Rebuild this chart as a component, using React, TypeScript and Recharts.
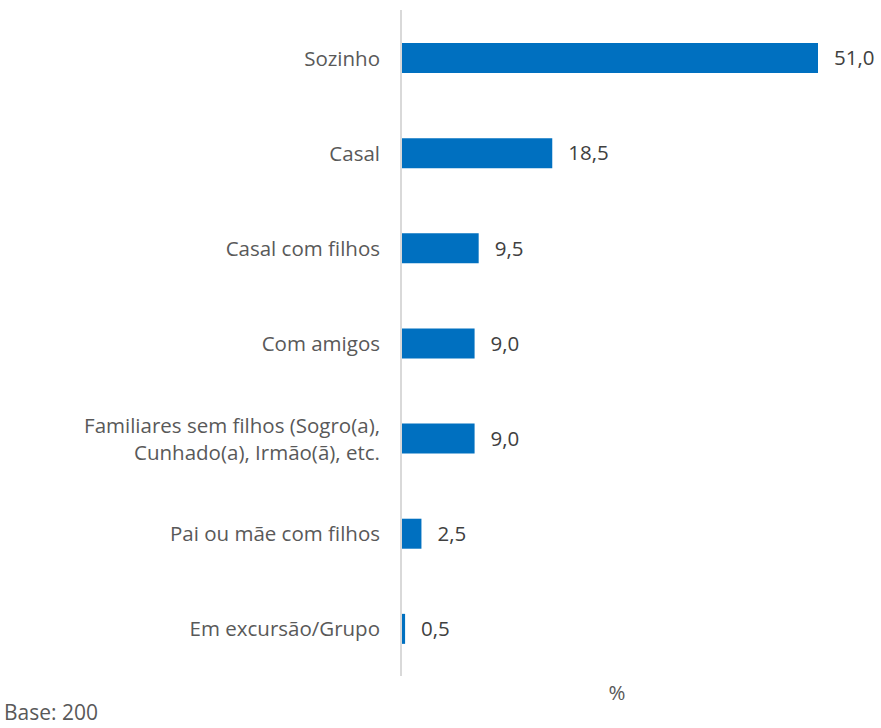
import React from "react";
import { BarChart, Bar, XAxis, YAxis, LabelList } from "recharts";

const categories = [
  "Sozinho",
  "Casal",
  "Casal com filhos",
  "Com amigos",
  "Familiares sem filhos (Sogro(a),\nCunhado(a), Irmão(ã), etc.",
  "Pai ou mãe com filhos",
  "Em excursão/Grupo",
];
const values = [51.0, 18.5, 9.5, 9.0, 9.0, 2.5, 0.5];

const data = categories.map((c, i) => ({ name: c, value: values[i] }));

const FONT = "'Open Sans', sans-serif";

const Tick = (props: any) => {
  const { x, y, payload } = props;
  const lines = String(payload.value).split("\n");
  const lh = 27;
  const start = -((lines.length - 1) * lh) / 2;
  return (
    <text
      x={x}
      y={y}
      textAnchor="end"
      fill="#595959"
      fontSize={20.5}
      fontFamily={FONT}
    >
      {lines.map((l, i) => (
        <tspan key={i} x={x} dy={i === 0 ? start : lh} dominantBaseline="central">
          {l}
        </tspan>
      ))}
    </text>
  );
};

export default function App() {
  return (
    <div style={{ position: "absolute", left: 0, top: 0, width: 881, height: 728, background: "#fff" }}>
      <BarChart
        width={881}
        height={728}
        data={data}
        layout="vertical"
        margin={{ top: 10, right: 63, bottom: 52, left: 0 }}
        barCategoryGap={0}
      >
        <XAxis type="number" domain={[0, 51]} hide />
        <YAxis
          type="category"
          dataKey="name"
          width={401}
          axisLine={{ stroke: "#d9d9d9", strokeWidth: 2 }}
          tickLine={false}
          tick={<Tick />}
          tickMargin={15}
          interval={0}
        />
        <Bar dataKey="value" fill="#0070C0" barSize={30} isAnimationActive={false}>
          <LabelList
            dataKey="value"
            position="right"
            offset={16}
            fill="#404040"
            fontSize={20.5}
            fontFamily={FONT}
            formatter={(v: any) => Number(v).toFixed(1).replace(".", ",")}
          />
        </Bar>
        <text x={617} y={692} textAnchor="middle" dominantBaseline="central" fill="#595959" fontSize={20.5} fontFamily={FONT}>
          %
        </text>
        <text x={4} y={720} fill="#595959" fontSize={21} fontFamily={FONT}>
          Base: 200
        </text>
      </BarChart>
    </div>
  );
}
